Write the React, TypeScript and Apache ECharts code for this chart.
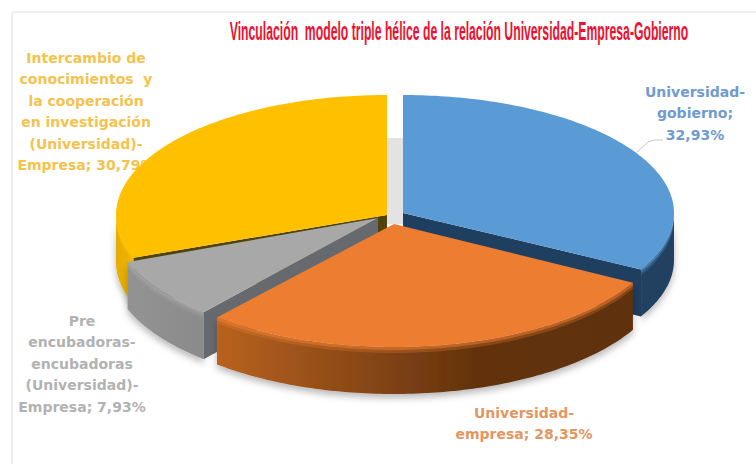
import React, { useEffect, useRef } from "react";
import * as echarts from "echarts";

const titleText = "Vinculación  modelo triple hélice de la relación Universidad-Empresa-Gobierno";
const categories = [
  "Universidad-gobierno",
  "Universidad-empresa",
  "Pre encubadoras-encubadoras (Universidad)-Empresa",
  "Intercambio de conocimientos y la cooperación en investigación (Universidad)-Empresa",
];
const values = [32.93, 28.35, 7.93, 30.79];
const labelBlue = ["Universidad-", "gobierno;", "32,93%"];
const labelOrange = ["Universidad-", "empresa; 28,35%"];
const labelGray = ["Pre", "encubadoras-", "encubadoras", "(Universidad)-", "Empresa; 7,93%"];
const labelYellow = ["Intercambio de", "conocimientos  y", "la cooperación", "en investigación", "(Universidad)-", "Empresa; 30,79%"];

// exploded pie geometry, per slice
const geom = [
  { cx: 403, cy: 213, rx: 271, ry: 118, order: 1 },
  { cx: 394, cy: 224, rx: 272, ry: 123, order: 3 },
  { cx: 378, cy: 218, rx: 268, ry: 124, order: 2 },
  { cx: 387, cy: 215, rx: 271, ry: 120, order: 0 },
];
const DEPTH = 47;
const style = [
  { top: "#5b9bd5", radial: "#1f3f60", wall: [[0, "#20405f"], [1, "#20405f"]] },
  { top: "#ed7d31", radial: "#5f300d", wall: [[0, "#b9621f"], [0.38, "#844515"], [0.62, "#63330e"], [1, "#5e310e"]] },
  { top: "#a8a8a8", radial: "#666a6e", wall: [[0, "#939393"], [1, "#8b8b8b"]] },
  { top: "#ffc000", radial: "#50430a", wall: [[0, "#e6ad00"], [1, "#f0b400"]] },
];

function App() {
  const ref = useRef<HTMLDivElement>(null);
  useEffect(() => {
    const chart = echarts.init(ref.current!, null, { renderer: "svg" });
    const total = values.reduce((a, b) => a + b, 0);
    const arc = (g: any, a: number, b: number, dy: number) => {
      const pts: number[][] = [];
      const n = Math.max(2, Math.ceil(b - a));
      for (let i = 0; i <= n; i++) {
        const t = ((a + ((b - a) * i) / n) * Math.PI) / 180;
        pts.push([g.cx + g.rx * Math.sin(t), g.cy - g.ry * Math.cos(t) + dy]);
      }
      return pts;
    };
    const renderItem = (params: any, api: any) => {
      const i = params.dataIndex;
      const before = values.slice(0, i).reduce((s, v) => s + v, 0);
      const a = (before / total) * 360;
      const b = a + (api.value(0) / total) * 360;
      const g = geom[i];
      const s = style[i];
      const z = g.order * 10;
      const children: any[] = [];
      const fa = Math.max(a, 90);
      const fb = Math.min(b, 270);
      if (fb > fa) {
        const topE = arc(g, fa, fb, 0);
        const botE = arc(g, fa, fb, DEPTH);
        children.push({
          type: "polygon",
          z2: z,
          shape: { points: topE.concat(botE.slice().reverse()) },
          style: {
            fill: { type: "linear", x: 0, y: 0, x2: 1, y2: 0, colorStops: s.wall.map(([offset, color]) => ({ offset, color })) },
            shadowBlur: 7,
            shadowColor: "rgba(0,0,0,0.28)",
            shadowOffsetY: 4,
          },
        });
        children.push({
          type: "polygon",
          z2: z + 1,
          shape: { points: topE.concat(arc(g, fa, fb, 6).reverse()) },
          style: { fill: s.top, opacity: 0.28 },
        });
        children.push({
          type: "polygon",
          z2: z + 1,
          shape: { points: topE.concat(arc(g, fa, fb, 3).reverse()) },
          style: { fill: s.top, opacity: 0.5 },
        });
      }
      const radial = (t: number) => {
        const [p] = arc(g, t, t + 1, 0);
        const q = [g.cx, g.cy];
        children.push({
          type: "polygon",
          z2: z + 2,
          shape: { points: [q, p, [p[0], p[1] + DEPTH], [q[0], q[1] + DEPTH]] },
          style: { fill: s.radial },
        });
      };
      if (b < 180) radial(b);
      if (a > 180) radial(a);
      children.push({
        type: "polygon",
        z2: z + 3,
        shape: { points: [[g.cx, g.cy] as number[]].concat(arc(g, a, b, 0)) },
        style: { fill: s.top },
      });
      return { type: "group", children };
    };
    const label = (lines: string[], x: number, y: number, fill: string) => ({
      type: "text",
      x,
      y,
      style: {
        text: lines.join("\n"),
        fill,
        font: "bold 14px 'DejaVu Sans'",
        lineHeight: 21.5,
        align: "center",
        verticalAlign: "top",
      },
    });
    chart.setOption({
      animation: false,
      backgroundColor: "#ffffff",
      graphic: {
        elements: [
          { type: "line", shape: { x1: 12, y1: 12, x2: 756, y2: 12 }, style: { stroke: "#eeeeee", lineWidth: 2 } },
          { type: "line", shape: { x1: 12, y1: 12, x2: 12, y2: 464 }, style: { stroke: "#eeeeee", lineWidth: 2 } },
          { type: "rect", shape: { x: 387, y: 138, width: 17, height: 86 }, style: { fill: "#e3e3e3" } },
          { type: "text", x: 459, y: 31, scaleX: 0.47, originX: 0, style: { text: titleText, fill: "#ee1030", font: "bold 26px 'Liberation Sans'", align: "center", verticalAlign: "middle" } },
          label(labelYellow, 86, 47, "#f5c24e"),
          label(labelBlue, 695, 81, "#6f9bd0"),
          label(labelGray, 82, 310, "#b2b2b2"),
          label(labelOrange, 524, 402, "#e4965f"),
          { type: "polyline", shape: { points: [[637, 152], [648, 142], [654, 140], [663, 140]] }, style: { stroke: "#c8c8c8", lineWidth: 1, fill: "none" } },
        ],
      },
      series: [
        {
          type: "custom",
          coordinateSystem: "none",
          renderItem,
          data: categories.map((name, i) => ({ name, value: [values[i]] })),
        },
      ],
    });
    return () => chart.dispose();
  }, []);
  return <div ref={ref} style={{ position: "fixed", left: 0, top: 0, width: 756, height: 464 }} />;
}

export default App;
